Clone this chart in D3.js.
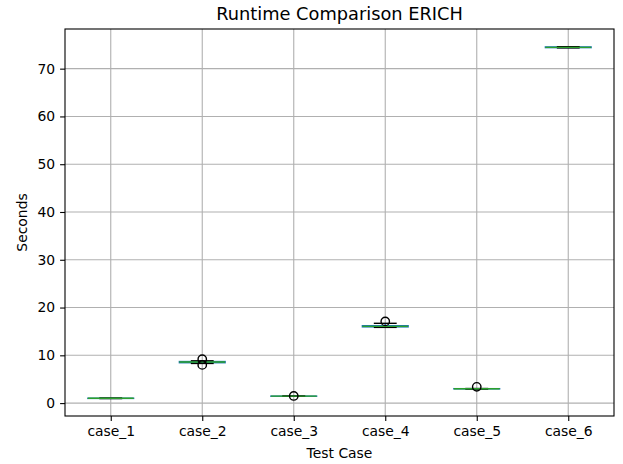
<!DOCTYPE html>
<html>
<head>
<meta charset="utf-8">
<script src="https://cdn.jsdelivr.net/npm/d3@7"></script>
<style>
  body { margin: 0; background: #fff; }
  text { font-family: "DejaVu Sans", sans-serif; fill: #000; }
</style>
</head>
<body>
<div id="chart"></div>
<script>
// box stats
var cases    = ["case_1", "case_2", "case_3", "case_4", "case_5", "case_6"];
var whiskLow = [0.95, 8.3, 1.42, 15.85, 2.95, 74.35];
var q1       = [0.98, 8.45, 1.44, 15.95, 2.98, 74.4];
var median   = [1.0, 8.6, 1.45, 16.05, 3.0, 74.45];
var q3       = [1.02, 8.7, 1.46, 16.2, 3.02, 74.55];
var whiskHigh= [1.05, 8.85, 1.48, 16.7, 3.05, 74.6];
var fliers   = [[], [8.0, 9.2], [1.5], [17.1], [3.4], []];
var yTicks   = [0, 10, 20, 30, 40, 50, 60, 70];

var w = 623, h = 464;
var mLeft = 65, mRight = 614, mTop = 29, mBottom = 416;

var svg = d3.select("#chart").append("svg")
  .attr("width", w).attr("height", h);

var xScale = d3.scalePoint().domain(cases).range([mLeft, mRight]).padding(0.5);
var step = xScale.step();
var yScale = d3.scaleLinear().domain([-2.7, 78.3]).range([mBottom, mTop]);

// grid
svg.append("g").selectAll("line").data(yTicks).enter().append("line")
  .attr("x1", mLeft).attr("x2", mRight)
  .attr("y1", function(d) { return yScale(d); })
  .attr("y2", function(d) { return yScale(d); })
  .attr("stroke", "#b0b0b0").attr("stroke-width", 1.1);
svg.append("g").selectAll("line").data(cases).enter().append("line")
  .attr("y1", mTop).attr("y2", mBottom)
  .attr("x1", function(d) { return xScale(d); })
  .attr("x2", function(d) { return xScale(d); })
  .attr("stroke", "#b0b0b0").attr("stroke-width", 1.1);

// boxes
var boxW = step * 0.5, capW = step * 0.25;
var g = svg.append("g").selectAll("g").data(cases).enter().append("g");

g.append("line") // lower whisker
  .attr("x1", function(d) { return xScale(d); }).attr("x2", function(d) { return xScale(d); })
  .attr("y1", function(d, i) { return yScale(q1[i]); })
  .attr("y2", function(d, i) { return yScale(whiskLow[i]); })
  .attr("stroke", "#1f77b4").attr("stroke-width", 1.4);
g.append("line") // upper whisker
  .attr("x1", function(d) { return xScale(d); }).attr("x2", function(d) { return xScale(d); })
  .attr("y1", function(d, i) { return yScale(q3[i]); })
  .attr("y2", function(d, i) { return yScale(whiskHigh[i]); })
  .attr("stroke", "#1f77b4").attr("stroke-width", 1.4);

g.append("rect")
  .attr("x", function(d) { return xScale(d) - boxW / 2; })
  .attr("width", boxW)
  .attr("y", function(d, i) { return yScale(q3[i]); })
  .attr("height", function(d, i) { return yScale(q1[i]) - yScale(q3[i]); })
  .attr("fill", "none").attr("stroke", "#1f77b4").attr("stroke-width", 1.4);

[whiskLow, whiskHigh].forEach(function(arr) {
  g.append("line")
    .attr("x1", function(d) { return xScale(d) - capW / 2; })
    .attr("x2", function(d) { return xScale(d) + capW / 2; })
    .attr("y1", function(d, i) { return yScale(arr[i]); })
    .attr("y2", function(d, i) { return yScale(arr[i]); })
    .attr("stroke", "#000").attr("stroke-width", 1.4);
});

g.append("line")
  .attr("x1", function(d) { return xScale(d) - boxW / 2; })
  .attr("x2", function(d) { return xScale(d) + boxW / 2; })
  .attr("y1", function(d, i) { return yScale(median[i]); })
  .attr("y2", function(d, i) { return yScale(median[i]); })
  .attr("stroke", "#2ca02c").attr("stroke-width", 1.4);

g.each(function(d, i) {
  d3.select(this).selectAll("circle").data(fliers[i]).enter().append("circle")
    .attr("cx", xScale(d))
    .attr("cy", function(v) { return yScale(v); })
    .attr("r", 4.2)
    .attr("fill", "none").attr("stroke", "#000").attr("stroke-width", 1.4);
});

// axes
var xAxis = d3.axisBottom(xScale).tickSize(4.9).tickPadding(4.9);
svg.append("g").attr("transform", "translate(0," + mBottom + ")").call(xAxis)
  .call(function(a) {
    a.select(".domain").remove();
    a.selectAll("line").attr("stroke-width", 1.1);
    a.selectAll("text").style("font-size", "13.9px").style("font-family", "DejaVu Sans");
  });
var yAxis = d3.axisLeft(yScale).tickValues(yTicks).tickSize(4.9).tickPadding(4.9);
svg.append("g").attr("transform", "translate(" + mLeft + ",0)").call(yAxis)
  .call(function(a) {
    a.select(".domain").remove();
    a.selectAll("line").attr("stroke-width", 1.1);
    a.selectAll("text").style("font-size", "13.9px").style("font-family", "DejaVu Sans");
  });

// frame
svg.append("rect").attr("x", mLeft).attr("y", mTop)
  .attr("width", mRight - mLeft).attr("height", mBottom - mTop)
  .attr("fill", "none").attr("stroke", "#000").attr("stroke-width", 1.1);

svg.append("text").attr("x", (mLeft + mRight) / 2).attr("y", 20)
  .attr("text-anchor", "middle").style("font-size", "17.8px")
  .text("Runtime Comparison ERICH");
svg.append("text").attr("x", (mLeft + mRight) / 2).attr("y", 458)
  .attr("text-anchor", "middle").style("font-size", "13.9px")
  .text("Test Case");
svg.append("text").attr("transform", "translate(27," + (mTop + mBottom) / 2 + ") rotate(-90)")
  .attr("text-anchor", "middle").style("font-size", "13.9px")
  .text("Seconds");
</script>
</body>
</html>
